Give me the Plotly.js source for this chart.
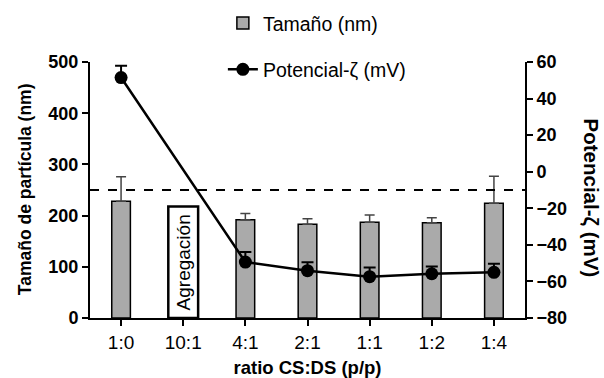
<!DOCTYPE html>
<html>
<head>
<meta charset="utf-8">
<script src="https://cdn.plot.ly/plotly-3.0.1.min.js"></script>
<style>html,body{margin:0;padding:0;background:#fff;}#chart{width:604px;height:378px;}</style>
</head>
<body>
<div id="chart"></div>
<script>
const categories = ["1:0", "10:1", "4:1", "2:1", "1:1", "1:2", "1:4"];
const sizeNm = [228, null, 192, 183, 187, 186, 224];
const sizeErr = [48, null, 12, 11, 14, 10, 53];
const zetaMv = [51.5, null, -49.4, -54.1, -57.4, -55.8, -55.0];
const zetaErr = [6.5, null, 5.5, 4.6, 5, 4, 4.6];
const thresholdNm = 250;
const aggregationLabel = "Agregación";
const aggregationIndex = 1;
const aggregationTop = 218;

const FONT = "Arial, 'Liberation Sans', sans-serif";
const zeros = sizeErr.map(v => v == null ? null : 0);

const traces = [
  {
    type: "bar", name: "Tamaño (nm)", x: categories, y: sizeNm, width: 0.3,
    marker: {color: "#aaaaaa", line: {color: "#000", width: 1.5}},
    error_y: {type: "data", symmetric: false, array: sizeErr, arrayminus: zeros, color: "#444", thickness: 1.5, width: 5},
    legendgroup: "a", yaxis: "y"
  },
  {
    type: "scatter", mode: "lines+markers", name: "Potencial-ζ (mV)", x: categories, y: zetaMv,
    connectgaps: true, yaxis: "y2",
    line: {color: "#000", width: 2.5},
    marker: {color: "#000", size: 13, symbol: "circle"},
    error_y: {type: "data", symmetric: false, array: zetaErr, arrayminus: zetaErr.map(v => v == null ? null : 0), color: "#000", thickness: 2, width: 6},
    legendgroup: "b"
  }
];

const layout = {
  width: 604, height: 378,
  margin: {l: 90, r: 79, t: 62, b: 60, autoexpand: false},
  paper_bgcolor: "#fff", plot_bgcolor: "#fff",
  font: {family: FONT, color: "#000", size: 18},
  showlegend: true,
  legend: {xref: "container", x: 0.369, xanchor: "left", yref: "container", y: 0.99, yanchor: "top",
           font: {size: 19.5, family: FONT},
           tracegroupgap: 18, traceorder: "grouped", bgcolor: "rgba(0,0,0,0)"},
  xaxis: {
    type: "category", range: [-0.5, 6.5], showline: true, linecolor: "#000", linewidth: 2,
    ticks: "outside", ticklen: 6, tickwidth: 2, tickcolor: "#000", showgrid: false, zeroline: false,
    tickfont: {size: 19, family: FONT},
    title: {text: "<b>ratio CS:DS (p/p)</b>", font: {size: 18.5, family: FONT}, standoff: 12}
  },
  yaxis: {
    range: [0, 500], tickvals: [0, 100, 200, 300, 400, 500], showline: true, linecolor: "#000", linewidth: 2,
    ticks: "outside", ticklen: 6, tickwidth: 2, tickcolor: "#000", showgrid: false, zeroline: false,
    tickfont: {size: 18, family: FONT, weight: "bold"}
  },
  yaxis2: {
    overlaying: "y", side: "right", range: [-80, 60], tickvals: [-80, -60, -40, -20, 0, 20, 40, 60],
    showline: true, linecolor: "#000", linewidth: 2,
    ticks: "outside", ticklen: 6, tickwidth: 2, tickcolor: "#000", showgrid: false, zeroline: false,
    tickfont: {size: 18, family: FONT, weight: "bold"}
  },
  shapes: [
    {type: "line", xref: "paper", x0: 0, x1: 1, yref: "y", y0: thresholdNm, y1: thresholdNm,
     line: {color: "#000", width: 2, dash: "dash"}},
    {type: "rect", xref: "x", x0: aggregationIndex - 0.24, x1: aggregationIndex + 0.24, yref: "y", y0: 0, y1: aggregationTop,
     line: {color: "#000", width: 2.5}, fillcolor: "#fff", layer: "below"}
  ],
  annotations: [
    {text: aggregationLabel, xref: "x", x: aggregationIndex, yref: "y", y: aggregationTop / 2, textangle: -90,
     showarrow: false, font: {size: 19, family: FONT}},
    {text: "<b>Tamaño de partícula (nm)</b>", xref: "paper", x: -0.149, xanchor: "center", yref: "paper", y: 0.504, yanchor: "middle", textangle: -90,
     showarrow: false, font: {size: 17.5, family: FONT}},
    {text: "<b>Potencial-ζ (mV)</b>", xref: "paper", x: 1.152, xanchor: "center", yref: "paper", y: 0.47, yanchor: "middle", textangle: 90,
     showarrow: false, font: {size: 20.5, family: FONT}}
  ]
};

Plotly.newPlot("chart", traces, layout, {displayModeBar: false, staticPlot: true});
</script>
</body>
</html>
